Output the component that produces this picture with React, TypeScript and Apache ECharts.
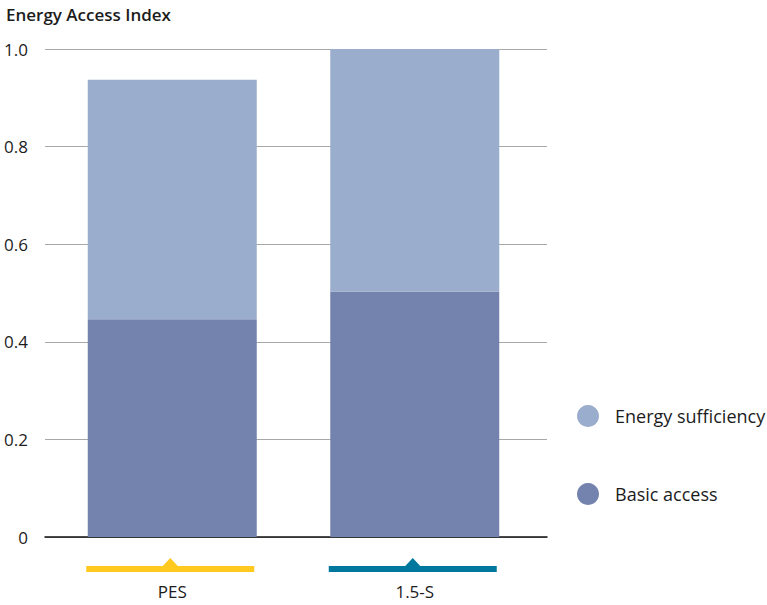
import React, { useEffect, useRef } from "react";
import * as echarts from "echarts";

const categories = ["PES", "1.5-S"];
const basicAccess = [0.446, 0.503];
const energySufficiency = [0.491, 0.497];
const scenarioColors = ["#FFC91F", "#00789E"];
const yTicks = [0, 0.2, 0.4, 0.6, 0.8, 1.0];

const FONT = "'Open Sans', 'DejaVu Sans', sans-serif";
const TEXT = "#1c1c1c";

export default function App() {
  const ref = useRef<HTMLDivElement>(null);
  useEffect(() => {
    if (!ref.current) return;
    const chart = echarts.init(ref.current, null, { renderer: "svg" });
    chart.setOption({
      animation: false,
      textStyle: { fontFamily: FONT, color: TEXT },
      title: {
        text: "Energy Access Index",
        left: 1,
        top: 1,
        textStyle: { fontFamily: FONT, fontSize: 17, fontWeight: 600, color: TEXT },
      },
      legend: {
        data: ["Energy sufficiency", "Basic access"],
        orient: "vertical",
        left: 572,
        top: 400,
        icon: "circle",
        itemWidth: 22,
        itemHeight: 22,
        itemGap: 56,
        textStyle: { fontFamily: FONT, fontSize: 18, color: TEXT, padding: [0, 0, 0, 11] },
      },
      grid: [
        { left: 45, right: 220, top: 49, bottom: 68 },
        { left: 51, right: 231, top: 49, bottom: 68 },
      ],
      xAxis: [
        {
          gridIndex: 0,
          type: "category",
          data: categories,
          axisLine: { show: true, lineStyle: { color: "#111", width: 1.5 } },
          axisTick: { show: false },
          axisLabel: { show: false },
          splitLine: { show: false },
        },
        {
          gridIndex: 1,
          type: "category",
          data: categories,
          axisLine: { show: false },
          axisTick: { show: false },
          axisLabel: { fontFamily: FONT, fontSize: 17, color: TEXT, margin: 46 },
        },
      ],
      yAxis: [
        {
          gridIndex: 0,
          type: "value",
          min: yTicks[0],
          max: yTicks[yTicks.length - 1],
          interval: 0.2,
          axisLine: { show: false },
          axisTick: { show: false },
          axisLabel: {
            fontFamily: FONT,
            fontSize: 17,
            color: TEXT,
            margin: 17,
            formatter: (v: number) => (v === 0 ? "0" : v.toFixed(1)),
          },
          splitLine: { lineStyle: { color: "#a8a8a8", width: 1 } },
        },
        {
          gridIndex: 1,
          type: "value",
          min: 0,
          max: 1,
          interval: 0.2,
          show: false,
          splitLine: { show: false },
        },
      ],
      series: [
        {
          name: "Basic access",
          type: "bar",
          stack: "total",
          xAxisIndex: 1,
          yAxisIndex: 1,
          barWidth: 169,
          itemStyle: { color: "#7383AE" },
          data: basicAccess,
        },
        {
          name: "Energy sufficiency",
          type: "bar",
          stack: "total",
          xAxisIndex: 1,
          yAxisIndex: 1,
          barWidth: 169,
          itemStyle: { color: "#9AADCC" },
          data: energySufficiency,
        },
        {
          name: "markers",
          type: "custom",
          xAxisIndex: 1,
          yAxisIndex: 1,
          clip: false,
          silent: true,
          data: categories.map((_, i) => [i, 0]),
          renderItem: (params: any, api: any) => {
            const p = api.coord([api.value(0), 0]);
            const color = scenarioColors[params.dataIndex];
            const cx = p[0] - 2;
            const y = p[1] + 29;
            return {
              type: "group",
              children: [
                {
                  type: "rect",
                  shape: { x: cx - 84, y: y, width: 168, height: 6 },
                  style: { fill: color },
                },
                {
                  type: "polygon",
                  shape: { points: [[cx - 8, y + 0.5], [cx, y - 8], [cx + 8, y + 0.5]] },
                  style: { fill: color },
                },
              ],
            };
          },
        },
      ],
    });
    return () => chart.dispose();
  }, []);
  return <div ref={ref} style={{ width: 767, height: 605, position: "absolute", left: 0, top: 0 }} />;
}
